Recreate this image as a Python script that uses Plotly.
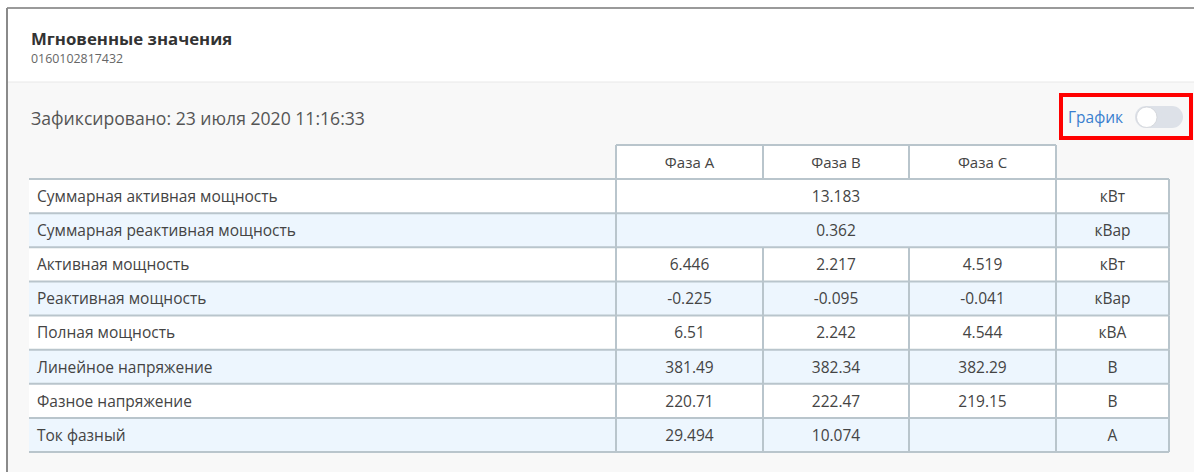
import plotly.graph_objects as go

# ---------------- data ----------------
title_text = "Мгновенные значения"
serial_text = "0160102817432"
fixed_text = "Зафиксировано: 23 июля 2020 11:16:33"
toggle_text = "График"

phase_names = ["Фаза A", "Фаза B", "Фаза C"]
param_names = [
    "Суммарная активная мощность",
    "Суммарная реактивная мощность",
    "Активная мощность",
    "Реактивная мощность",
    "Полная мощность",
    "Линейное напряжение",
    "Фазное напряжение",
    "Ток фазный",
]
units = ["кВт", "кВар", "кВт", "кВар", "кВА", "В", "В", "А"]
# rows whose value spans all three phases
summary_values = [13.183, 0.362, None, None, None, None, None, None]
phase_a = [None, None, 6.446, -0.225, 6.51, 381.49, 220.71, 29.494]
phase_b = [None, None, 2.217, -0.095, 2.242, 382.34, 222.47, 10.074]
phase_c = [None, None, 4.519, -0.041, 4.544, 382.29, 219.15, None]

# ---------------- layout constants ----------------
W, H = 1194, 472
FONT = "Open Sans"
col_edges = [29, 616, 763, 909, 1056, 1169]
head_top = 145
table_top = 179
row_h = 34.125
text_dy = 2
line_col = "#b9c5cc"
text_col = "#444444"
stripe = "#edf6fe"

n_rows = len(param_names)
row_mid = [table_top + (i + 0.5) * row_h + text_dy for i in range(n_rows)]
row_edge = [table_top + i * row_h for i in range(n_rows + 1)]
col_mid = [(col_edges[i] + col_edges[i + 1]) / 2 for i in range(len(col_edges) - 1)]

shapes = []


def rect(x0, y0, x1, y1, fill, layer="below"):
    shapes.append(dict(type="rect", x0=x0, y0=y0, x1=x1, y1=y1, xref="x", yref="y",
                       fillcolor=fill, line=dict(width=0), layer=layer))


def line(x0, y0, x1, y1, color=line_col, width=2, layer="below"):
    shapes.append(dict(type="line", x0=x0, y0=y0, x1=x1, y1=y1, xref="x", yref="y",
                       line=dict(color=color, width=width), layer=layer))


# page background / card
rect(8, 9, W, 82, "#ffffff")
rect(8, 82, W, H, "#f8f8f8")
line(8, 82, W, 82, "#e8e8e8", 1)
line(7, 8, W, 8, "#9a9a9a", 2)
line(7, 8, 7, H, "#8a8a8a", 2)

# header cells
rect(col_edges[1], head_top, col_edges[4], table_top, "#ffffff")
# row stripes
for i in range(n_rows):
    rect(col_edges[0], row_edge[i], col_edges[-1], row_edge[i + 1],
         stripe if i % 2 == 1 else "#ffffff")

# grid lines
line(col_edges[1], head_top, col_edges[4], head_top)
for x in col_edges[1:5]:
    line(x, head_top, x, table_top)
for y in row_edge:
    line(col_edges[0], y, col_edges[-1], y)
for i in range(n_rows):
    xs = [col_edges[1], col_edges[4], col_edges[5]]
    if summary_values[i] is None:
        xs += [col_edges[2], col_edges[3]]
    for x in xs:
        line(x, row_edge[i], x, row_edge[i + 1])

# toggle with red highlight
tog = "#dde1e8"
rect(1146, 106, 1172, 128, tog, layer="above")
shapes.append(dict(type="circle", x0=1135, y0=106, x1=1157, y1=128, xref="x", yref="y",
                   fillcolor=tog, line=dict(width=0), layer="above"))
shapes.append(dict(type="circle", x0=1161, y0=106, x1=1183, y1=128, xref="x", yref="y",
                   fillcolor=tog, line=dict(width=0), layer="above"))
shapes.append(dict(type="circle", x0=1136.5, y0=107, x1=1157, y1=127.5, xref="x", yref="y",
                   fillcolor="#ffffff", line=dict(width=0.8, color="#d0d3d8"), layer="above"))
shapes.append(dict(type="rect", x0=1061, y0=95, x1=1191, y1=138, xref="x", yref="y",
                   fillcolor="rgba(0,0,0,0)", line=dict(color="#ff0000", width=4), layer="above"))

fig = go.Figure()


def fmt(v):
    return "" if v is None else str(v)


tfont = dict(family=FONT, size=15.5, color=text_col)

# header texts
fig.add_trace(go.Scatter(x=col_mid[1:4], y=[(head_top + table_top) / 2 + text_dy] * 3,
                         mode="text", text=phase_names, textposition="middle center",
                         textfont=dict(family=FONT, size=15, color=text_col),
                         hoverinfo="skip", showlegend=False))
# parameter names
fig.add_trace(go.Scatter(x=[col_edges[0] + 8] * n_rows, y=row_mid, mode="text",
                         text=param_names, textposition="middle right", textfont=tfont,
                         hoverinfo="skip", showlegend=False))
# merged summary values
sum_rows = [i for i in range(n_rows) if summary_values[i] is not None]
fig.add_trace(go.Scatter(x=[(col_edges[1] + col_edges[4]) / 2] * len(sum_rows),
                         y=[row_mid[i] for i in sum_rows], mode="text",
                         text=[fmt(summary_values[i]) for i in sum_rows],
                         textposition="middle center", textfont=tfont,
                         hoverinfo="skip", showlegend=False))
# phase values
for k, series in enumerate([phase_a, phase_b, phase_c]):
    fig.add_trace(go.Scatter(x=[col_mid[k + 1]] * n_rows, y=row_mid, mode="text",
                             text=[fmt(v) for v in series], textposition="middle center",
                             textfont=tfont, hoverinfo="skip", showlegend=False))
# units
fig.add_trace(go.Scatter(x=[col_mid[4]] * n_rows, y=row_mid, mode="text", text=units,
                         textposition="middle center", textfont=tfont,
                         hoverinfo="skip", showlegend=False))

annotations = [
    dict(x=29, y=38, text="<b>" + title_text + "</b>", xanchor="left", yanchor="middle",
         font=dict(family=FONT, size=16.8, color="#333333")),
    dict(x=29, y=58, text=serial_text, xanchor="left", yanchor="middle",
         font=dict(family=FONT, size=12.4, color="#666666")),
    dict(x=29, y=118, text=fixed_text, xanchor="left", yanchor="middle",
         font=dict(family=FONT, size=17.6, color="#555555")),
    dict(x=1066, y=117, text=toggle_text, xanchor="left", yanchor="middle",
         font=dict(family=FONT, size=15.5, color="#3a7fcf")),
]
for a in annotations:
    a.update(xref="x", yref="y", showarrow=False)

fig.update_layout(
    width=W, height=H, margin=dict(l=0, r=0, t=0, b=0),
    paper_bgcolor="#ffffff", plot_bgcolor="#ffffff",
    xaxis=dict(range=[0, W], visible=False, fixedrange=True),
    yaxis=dict(range=[H, 0], visible=False, fixedrange=True),
    shapes=shapes, annotations=annotations, showlegend=False,
)
fig.write_html("out.html", config=dict(displayModeBar=False),
               post_script="document.body.style.margin='0';document.body.style.overflow='hidden';")
